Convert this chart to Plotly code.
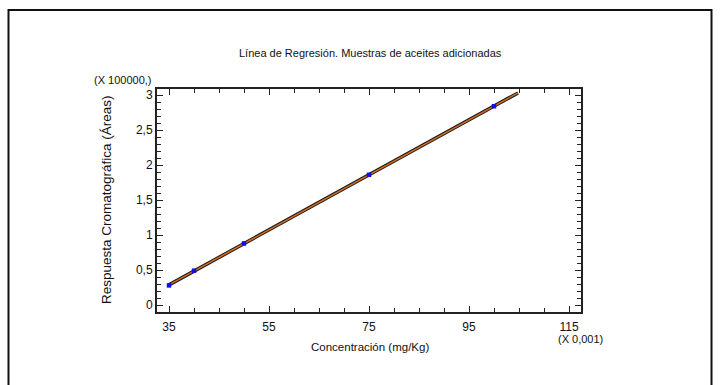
import numpy as np
import plotly.graph_objects as go

# Calibration data: concentration (x 0,001 mg/Kg) vs chromatographic area (x 100000)
concentracion = [35, 40, 50, 75, 100]
respuesta = [0.28, 0.49, 0.88, 1.86, 2.84]

x_ticks = [35, 55, 75, 95, 115]
x_ticktext = ["35", "55", "75", "95", "115"]
y_ticks = [0, 0.5, 1, 1.5, 2, 2.5, 3]
y_ticktext = ["0", "0,5", "1", "1,5", "2", "2,5", "3"]

# Least-squares regression line
slope, intercept = np.polyfit(concentracion, respuesta, 1)
x_line = np.array([35, 104.8])
y_line = slope * x_line + intercept

W, H = 720, 385
L, R, T, B = 157, 581, 89, 312


def px(x):
    return (x - L) / (R - L)


def py(y):
    return (B - y) / (B - T)


NARROW = "Liberation Sans Narrow, Arial Narrow, Liberation Sans, sans-serif"
REG = "Liberation Sans, Arial, sans-serif"

fig = go.Figure()
fig.add_trace(go.Scatter(
    x=x_line, y=y_line, mode="lines",
    line=dict(color="#1a1a1a", width=3.5), hoverinfo="skip", showlegend=False))
fig.add_trace(go.Scatter(
    x=x_line, y=y_line, mode="lines",
    line=dict(color="#cc6a20", width=1.6), hoverinfo="skip", showlegend=False))
fig.add_trace(go.Scatter(
    x=concentracion, y=respuesta, mode="markers",
    marker=dict(symbol="square", size=4.5, color="#1010e0"),
    showlegend=False))

axis_common = dict(
    showgrid=False, zeroline=False, showline=True, linecolor="#222",
    linewidth=2, mirror="allticks", ticks="inside", tickcolor="#222",
    tickwidth=1.2, ticklen=6,
    tickfont=dict(family=NARROW, size=12, color="#111"),
)


def label(text, x, y, size=11, family=NARROW, angle=0):
    return dict(text=text, xref="paper", yref="paper", x=px(x), y=py(y),
                xanchor="center", yanchor="middle", textangle=angle,
                showarrow=False, font=dict(family=family, size=size, color="#111"))


fig.update_layout(
    width=W, height=H,
    margin=dict(l=L, r=W - R, t=T, b=H - B, autoexpand=False),
    paper_bgcolor="white", plot_bgcolor="white",
    xaxis=dict(range=[32.6, 117.4], tickvals=x_ticks, ticktext=x_ticktext,
               ticklabelstandoff=3,
               minor=dict(dtick=5, tick0=35, ticks="inside", ticklen=4,
                          tickcolor="#222", tickwidth=1),
               **axis_common),
    yaxis=dict(range=[-0.1, 3.086], tickvals=y_ticks, ticktext=y_ticktext,
               minor=dict(dtick=0.1, tick0=0, ticks="inside", ticklen=4,
                          tickcolor="#222", tickwidth=1),
               **axis_common),
    shapes=[dict(type="rect", xref="paper", yref="paper",
                 x0=px(8.5), x1=px(711.5), y0=py(400), y1=py(10),
                 line=dict(color="#111", width=2), layer="above")],
    annotations=[
        label("Línea de Regresión. Muestras de aceites adicionadas", 370, 53),
        label("Respuesta Cromatográfica (Áreas)", 106, 200, size=13.5,
              family=REG, angle=-90),
        label("(X 100000,)", 122, 80),
        label("Concentración (mg/Kg)", 370, 347, size=11.5),
        label("(X 0,001)", 580, 339),
    ],
)

fig.write_html("out.html")
